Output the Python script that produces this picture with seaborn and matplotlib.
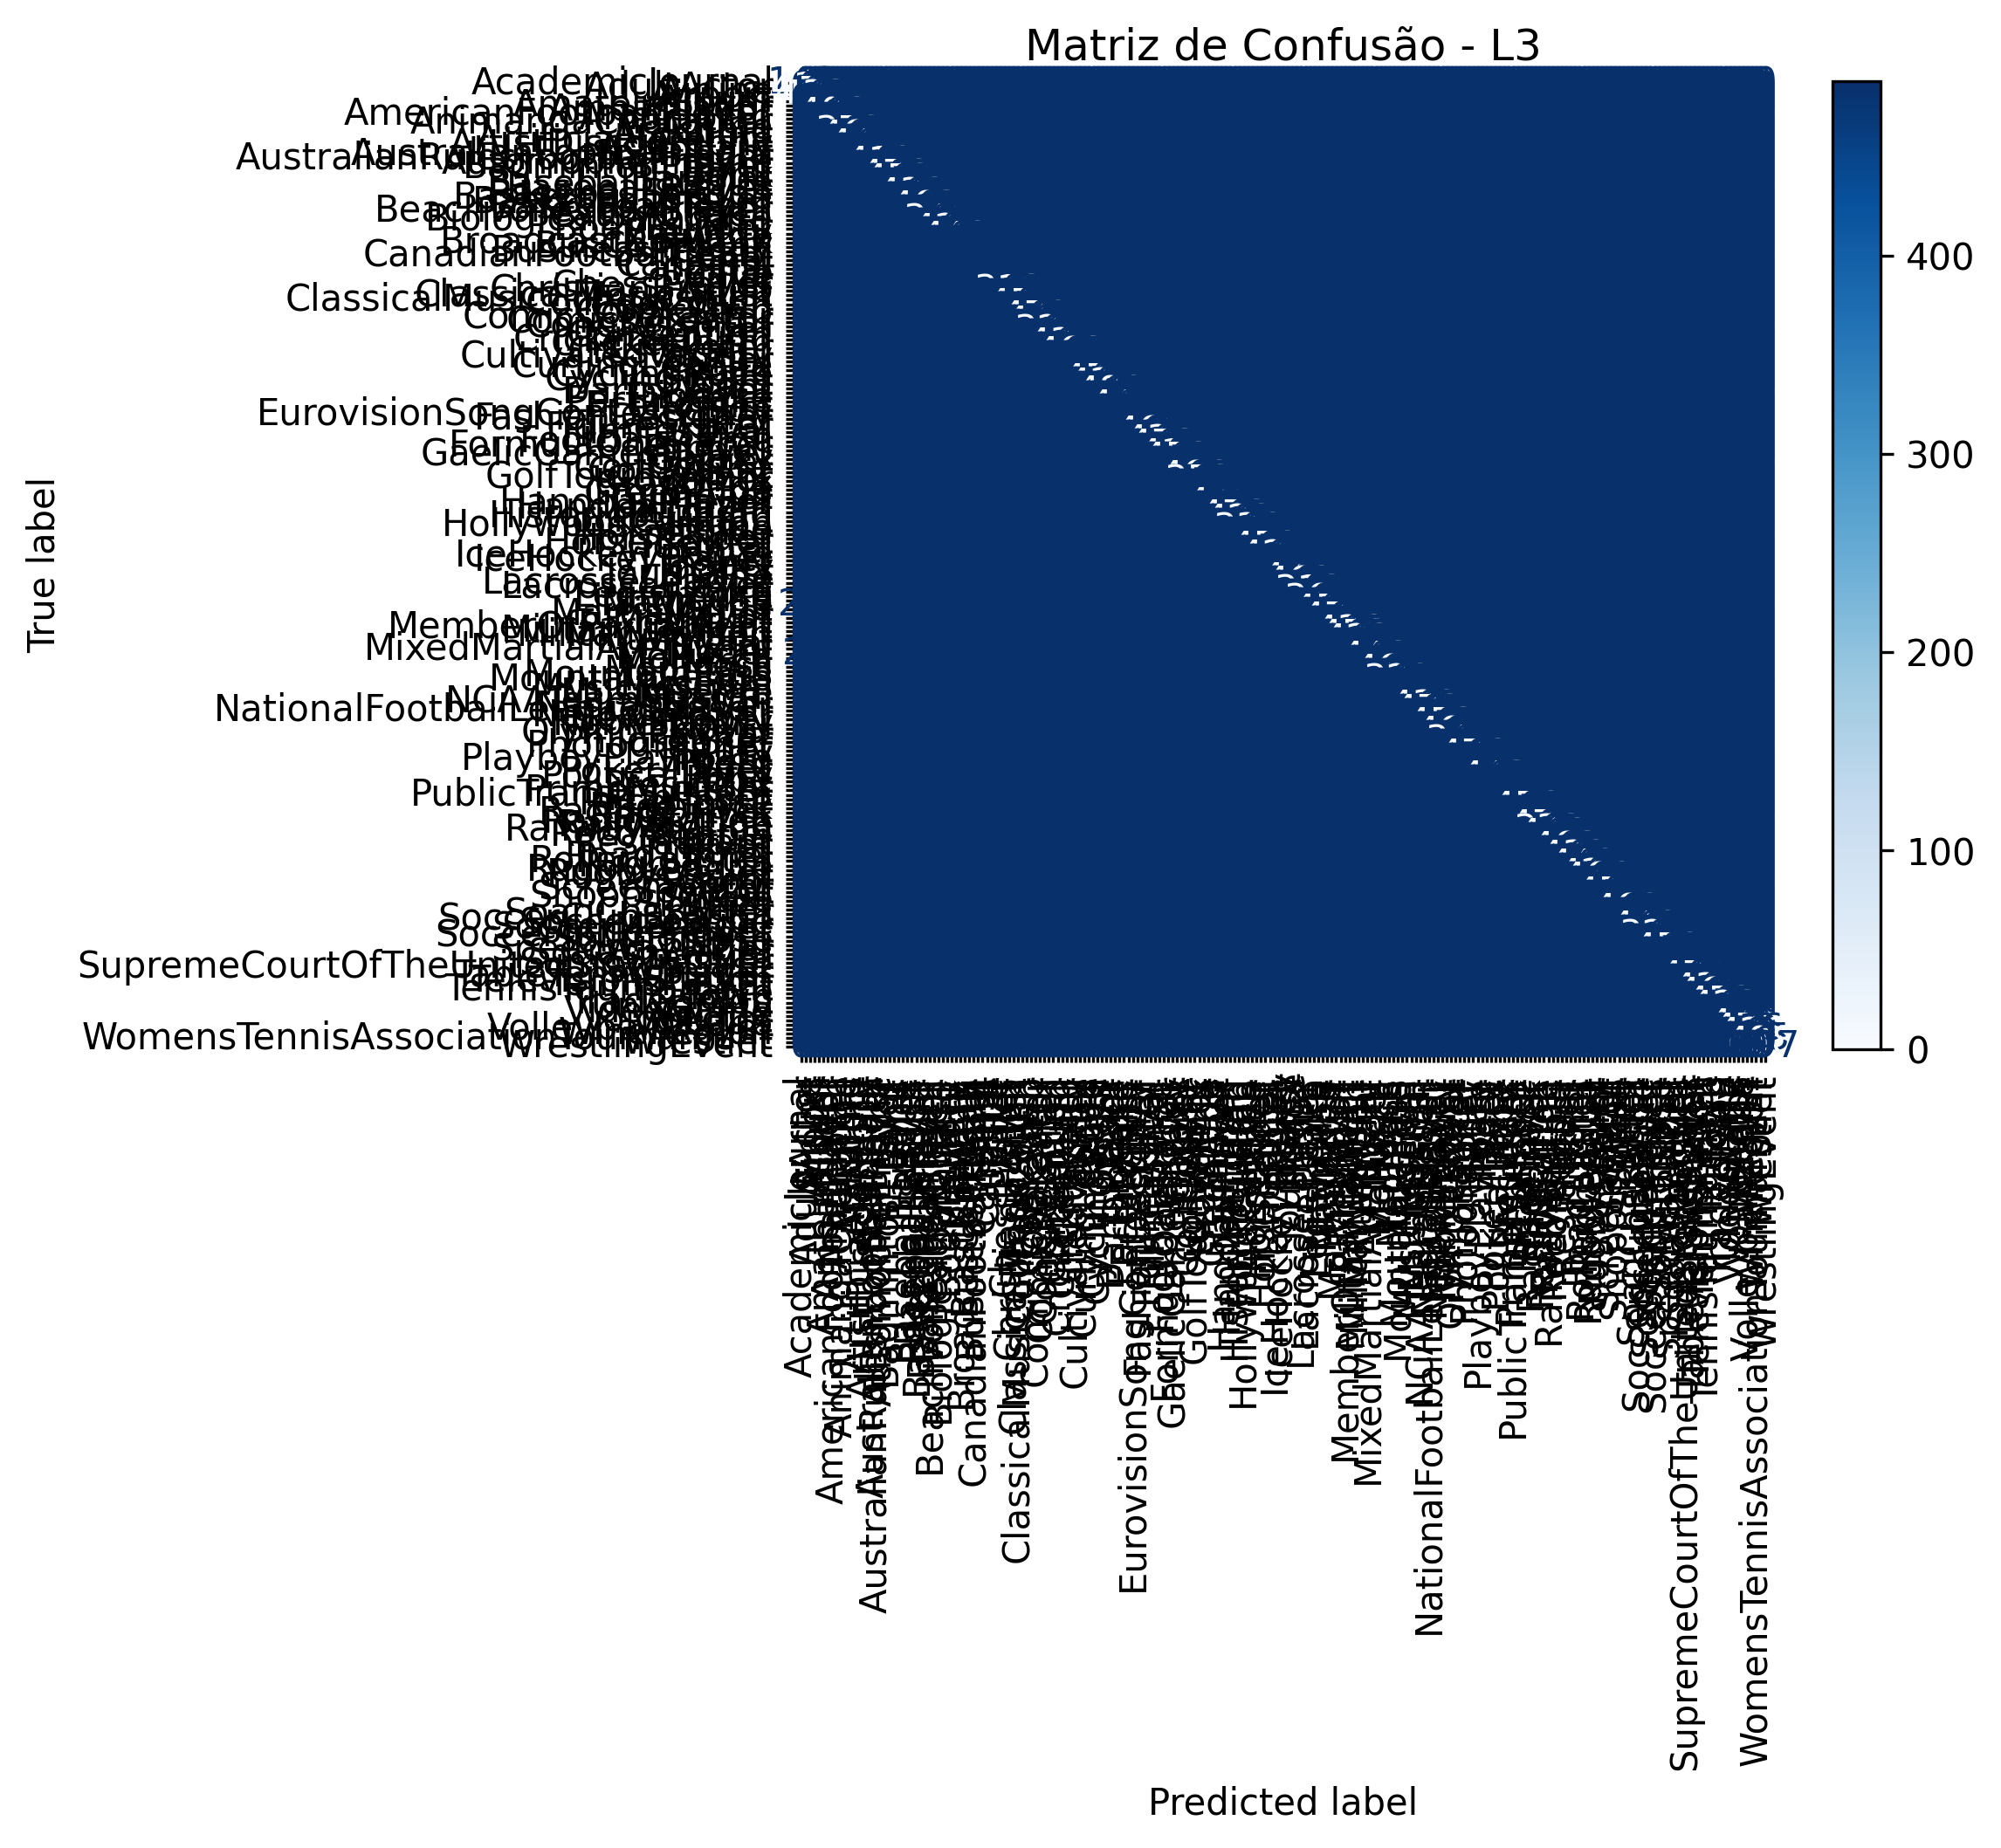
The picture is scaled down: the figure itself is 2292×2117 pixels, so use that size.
import numpy as np
import matplotlib
matplotlib.use("Agg")
import matplotlib.pyplot as plt
import seaborn as sns

# ---- class labels (219 DBpedia L3 classes, alphabetical) ----
class_labels = [
    "AcademicJournal", "AdultActor", "Airline", "Airport", "Album", "AmateurBoxer", "Ambassador",
    "AmericanFootballPlayer", "Amphibian", "AnimangaCharacter",
    "Anime", "Arachnid", "Architect", "ArtificialSatellite", "ArtistDiscography", "Astronaut",
    "AustralianFootballTeam", "AustralianRulesFootballPlayer", "AutomobileEngine", "BadmintonPlayer",
    "Band", "Bank", "Baronet", "BaseballLeague", "BaseballPlayer", "BaseballSeason", "BasketballLeague",
    "BasketballPlayer", "BasketballTeam", "BeachVolleyballPlayer",
    "BeautyQueen", "BiologicalDatabase", "Bird", "BodyBuilder", "Brewery", "Bridge", "BroadcastNetwork",
    "BusCompany", "BusinessPerson", "CanadianFootballTeam",
    "Canal", "Canoeist", "Cardinal", "Castle", "Cave", "Chef", "ChessPlayer", "ChristianBishop",
    "ClassicalMusicArtist", "ClassicalMusicComposition",
    "CollegeCoach", "Comedian", "ComicStrip", "ComicsCharacter", "ComicsCreator", "Congressman", "Conifer",
    "Convention", "CricketGround", "CricketTeam",
    "Cricketer", "Crustacean", "CultivatedVariety", "Curler", "CurlingLeague", "Cycad", "CyclingRace",
    "CyclingTeam", "Cyclist", "Dam",
    "DartsPlayer", "Diocese", "Earthquake", "Economist", "Election", "EurovisionSongContestEntry",
    "FashionDesigner", "Fern", "FigureSkater", "FilmFestival",
    "Fish", "FootballMatch", "FormulaOneRacer", "Fungus", "GaelicGamesPlayer", "Galaxy", "Glacier",
    "GolfCourse", "GolfPlayer", "GolfTournament",
    "Governor", "GrandPrix", "Grape", "GreenAlga", "Gymnast", "HandballPlayer", "HandballTeam",
    "Historian", "HistoricBuilding", "HockeyTeam",
    "HollywoodCartoon", "Horse", "HorseRace", "HorseRider", "HorseTrainer", "Hospital", "Hotel",
    "IceHockeyLeague", "IceHockeyPlayer", "Insect",
    "Jockey", "Journalist", "Judge", "LacrosseLeague", "LacrossePlayer", "Lake", "Legislature",
    "Lighthouse", "Magazine", "Manga",
    "MartialArtist", "Mayor", "Medician", "MemberOfParliament", "MilitaryConflict", "MilitaryPerson",
    "MilitaryUnit", "Mineral", "MixedMartialArtsEvent", "Model",
    "Mollusca", "Monarch", "Moss", "Mountain", "MountainPass", "MountainRange", "Museum",
    "MusicFestival", "MusicGenre", "Musical",
    "NCAATeamSeason", "NascarDriver", "NationalFootballLeagueSeason", "NetballPlayer", "Newspaper",
    "NobleFamily", "Novel", "OlympicEvent", "Painter", "Philosopher",
    "Photographer", "Planet", "Play", "PlayboyPlaymate", "Poem", "Poet", "PokerPlayer",
    "PoliticalParty", "Pope", "President",
    "PrimeMinister", "PublicTransitSystem", "Publisher", "RaceHorse", "RaceTrack", "RacingDriver",
    "RadioHost", "RadioStation", "RailwayLine", "RailwayStation",
    "RecordLabel", "Reptile", "Restaurant", "River", "Road", "RoadTunnel", "RollerCoaster",
    "RugbyClub", "RugbyLeague", "RugbyPlayer",
    "Saint", "School", "ScreenWriter", "Senator", "ShoppingMall", "Single", "SkiArea", "Skier",
    "SoapCharacter", "SoccerClubSeason",
    "SoccerLeague", "SoccerManager", "SoccerPlayer", "SoccerTournament", "SolarEclipse", "Song",
    "SpeedwayRider", "SquashPlayer", "Stadium", "SumoWrestler",
    "SupremeCourtOfTheUnitedStatesCase", "Swimmer", "TableTennisPlayer", "TelevisionStation",
    "TennisPlayer", "TennisTournament", "Theatre", "Town", "TradeUnion", "University",
    "VideoGame", "Village", "VoiceActor", "Volcano", "VolleyballPlayer", "WineRegion",
    "WomensTennisAssociationTournament", "Wrestler", "WrestlingEvent",
]

# ---- correct predictions per class (diagonal), estimated ----
diag_counts = [
    148, 412, 457, 433, 96, 174, 121, 406, 188, 143,
    210, 372, 461, 157, 447, 92, 203, 138, 419, 166,
    117, 476, 452, 184, 131, 438, 109, 227, 463, 152,
    98, 341, 196, 421, 135, 449, 86, 178, 214, 123,
    67, 191, 142, 229, 105, 160, 88, 318, 171, 132,
    457, 208, 119, 470, 442, 167, 327, 94, 185, 431,
    146, 468, 212, 77, 139, 183, 101, 455, 427, 162,
    480, 118, 199, 444, 85, 231, 147, 113, 176, 461,
    129, 437, 473, 190, 412, 452, 154, 71, 206, 466,
    352, 125, 188, 99, 163, 445, 217, 141, 478, 429,
    172, 336, 108, 194, 137, 459, 181, 424, 149, 93,
    201, 170, 441, 462, 128, 318, 187, 364, 156, 451,
    112, 474, 193, 140, 436, 458, 423, 165, 82, 209,
    448, 134, 177, 467, 120, 329, 198, 91, 153, 226,
    116, 439, 472, 144, 186, 453, 124, 464, 169, 347,
    102, 215, 476, 159, 87, 197, 130, 443, 175, 111,
    220, 150, 79, 192, 456, 136, 204, 164, 471, 338,
    446, 127, 189, 463, 158, 432, 107, 449, 180, 421,
    466, 145, 211, 454, 133, 97, 173, 469, 122, 200,
    151, 440, 168, 321, 115, 182, 459, 139, 224, 104,
    161, 90, 475, 148, 195, 437, 461, 126, 452, 428,
    179, 114, 205, 444, 470, 426, 155, 488, 197,
]

# ---- visible misclassifications (true class, predicted class, count) ----
err_true = ["Magazine", "Model", "VolleyballPlayer"]
err_pred = ["AcademicJournal", "AdultActor", "Wrestler"]
err_count = [24, 21, 16]

n = len(class_labels)
cm = np.diag(np.array(diag_counts, dtype=int))
for t, p, c in zip(err_true, err_pred, err_count):
    cm[class_labels.index(t), class_labels.index(p)] = c

fig, ax = plt.subplots(figsize=(6.4, 4.8))
sns.heatmap(cm, cmap="Blues", square=True, cbar=True,
            xticklabels=class_labels, yticklabels=class_labels, ax=ax)

cbar = ax.collections[0].colorbar
cbar.outline.set_linewidth(0.8)
cbar.outline.set_edgecolor("black")

cmap = plt.get_cmap("Blues")
col_min, col_max = cmap(0.0), cmap(1.0)
thresh = (cm.max() + cm.min()) / 2.0
for i in range(n):
    for j in range(n):
        v = cm[i, j]
        t = ax.text(j + 0.5, i + 0.5, format(v, "d"), ha="center", va="center",
                    color=col_max if v < thresh else col_min, fontsize=10)
        t.set_in_layout(False)

plt.setp(ax.get_xticklabels(), rotation="vertical", ha="center")
plt.setp(ax.get_yticklabels(), rotation=0)
ax.set_xlabel("Predicted label")
ax.set_ylabel("True label")
ax.set_title("Matriz de Confusão - L3")

fig.savefig("out.png", dpi=300, bbox_inches="tight")
